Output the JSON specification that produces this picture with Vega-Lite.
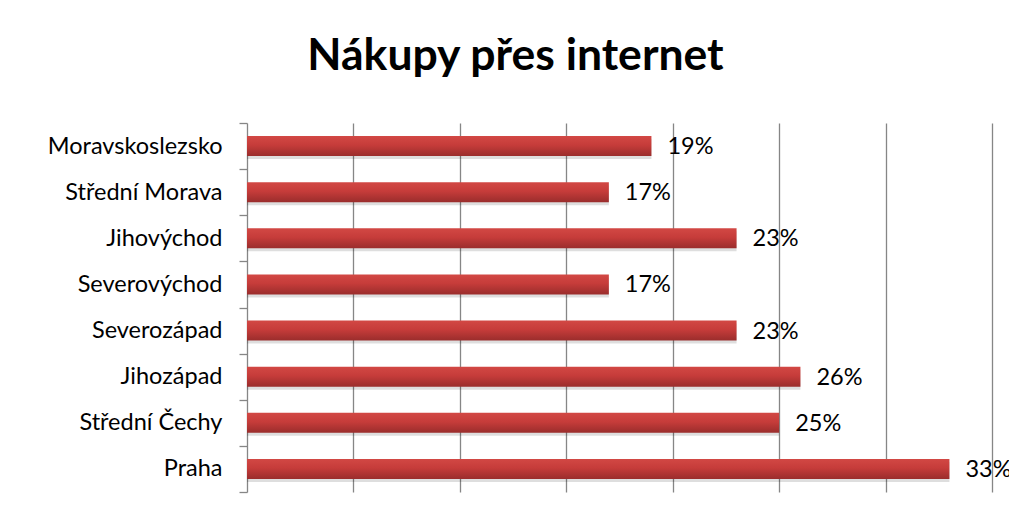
{
  "$schema": "https://vega.github.io/schema/vega-lite/v6.json",
  "width": 745,
  "height": 369,
  "autosize": "none",
  "padding": {"left": 247, "top": 123, "right": 17, "bottom": 22},
  "background": "white",
  "title": {
    "text": "Nákupy přes internet",
    "font": "Lato",
    "fontSize": 44.5,
    "fontWeight": "bold",
    "color": "#000000",
    "anchor": "middle",
    "baseline": "alphabetic",
    "dx": -104,
    "offset": -3
  },
  "config": {
    "view": {"stroke": null},
    "font": "Lato"
  },
  "data": {
    "values": [
      {"region": "Moravskoslezsko", "value": 0.19},
      {"region": "Střední Morava", "value": 0.17},
      {"region": "Jihovýchod", "value": 0.23},
      {"region": "Severovýchod", "value": 0.17},
      {"region": "Severozápad", "value": 0.23},
      {"region": "Jihozápad", "value": 0.26},
      {"region": "Střední Čechy", "value": 0.25},
      {"region": "Praha", "value": 0.33}
    ]
  },
  "encoding": {
    "y": {
      "field": "region",
      "type": "nominal",
      "sort": ["Moravskoslezsko", "Střední Morava", "Jihovýchod", "Severovýchod", "Severozápad", "Jihozápad", "Střední Čechy", "Praha"],
      "scale": {"paddingInner": 0, "paddingOuter": 0},
      "axis": {
        "title": null,
        "tickBand": "extent",
        "tickSize": 8,
        "tickColor": "#868686",
        "tickWidth": 1.3,
        "domainColor": "#868686",
        "domainWidth": 1.3,
        "labelPadding": 17,
        "labelFontSize": 23.5,
        "labelFont": "Lato",
        "labelColor": "#000000",
        "grid": false
      }
    },
    "x": {
      "field": "value",
      "type": "quantitative",
      "scale": {"domain": [0, 0.35], "nice": false},
      "axis": {
        "title": null,
        "values": [0.05, 0.1, 0.15, 0.2, 0.25, 0.3, 0.35],
        "labels": false,
        "ticks": false,
        "domain": false,
        "grid": true,
        "gridColor": "#868686",
        "gridWidth": 1.3
      }
    }
  },
  "layer": [
    {
      "mark": {"type": "bar", "height": {"band": 0.435}, "fill": "#000000", "fillOpacity": 0.13, "yOffset": 3, "x2Offset": 3}
    },
    {
      "mark": {
        "type": "bar",
        "height": {"band": 0.435},
        "fill": {
          "gradient": "linear",
          "x1": 0, "y1": 0, "x2": 0, "y2": 1,
          "stops": [
            {"offset": 0, "color": "#d24844"},
            {"offset": 0.45, "color": "#c63c3a"},
            {"offset": 1, "color": "#9a2d2c"}
          ]
        }
      }
    },
    {
      "mark": {"type": "text", "align": "left", "baseline": "middle", "dx": 16, "dy": 1, "fontSize": 23.5, "font": "Lato", "color": "#000000"},
      "encoding": {
        "text": {"field": "value", "type": "quantitative", "format": ".0%"}
      }
    }
  ]
}
